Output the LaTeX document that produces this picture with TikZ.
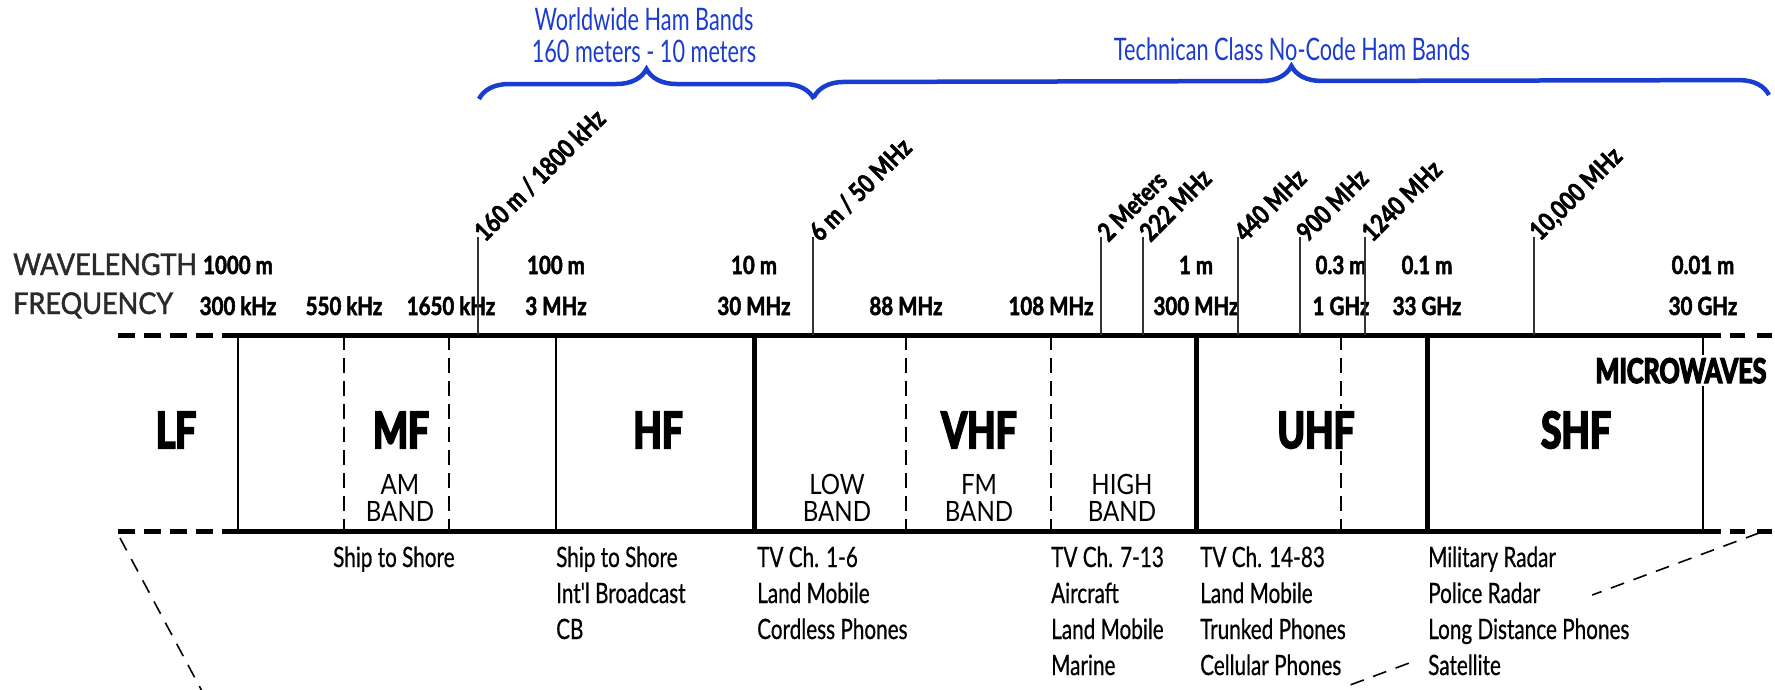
\documentclass[tikz,border=0pt]{standalone}
\usepackage{fontspec}
\setmainfont{Lato}
\newfontfamily\narrowfont[FakeStretch=0.74,FakeBold=0.6]{Lato}
\newfontfamily\hamfont[FakeStretch=0.7]{Lato}
\newfontfamily\semifont[FakeStretch=0.86]{Lato}
\newfontfamily\numfont[FakeStretch=0.82,FakeBold=2]{Lato}
\newfontfamily\heavyfont[FakeStretch=0.74,FakeBold=4]{Lato}
\newfontfamily\rowfont[FakeStretch=0.9,FakeBold=1.5]{Lato}
\usepackage{tikz}
\usetikzlibrary{calc,decorations.pathreplacing}
\definecolor{hamblue}{HTML}{1A3CCF}
\definecolor{rowgray}{HTML}{2A2A2A}

\begin{document}
\begin{tikzpicture}[x=1pt, y=-1pt,
  bandlbl/.style={font=\heavyfont\bfseries\fontsize{50}{50}\selectfont, anchor=base, inner sep=0pt},
  sublbl/.style={font=\semifont\fontsize{28}{27}\selectfont, align=center, anchor=south, inner sep=0pt},
  numlbl/.style={font=\numfont\bfseries\fontsize{25}{25}\selectfont, anchor=base, inner sep=0pt},
  rowlbl/.style={font=\rowfont\fontsize{30}{30}\selectfont, text=rowgray, anchor=base west, inner sep=0pt},
  tiltlbl/.style={font=\numfont\bfseries\fontsize{26}{26}\selectfont, rotate=45, anchor=west, inner sep=1pt},
  uselbl/.style={font=\narrowfont\fontsize{28}{28}\selectfont, anchor=base west, inner sep=0pt},
  hamlbl/.style={font=\hamfont\fontsize{31}{32}\selectfont, text=hamblue, align=center, inner sep=0pt},
  hambrace/.style={draw=hamblue, line width=4.5pt, decorate, decoration={brace, amplitude=30pt}},
  bandedge/.style={line width=5pt},
  thinb/.style={line width=2pt},
  thickb/.style={line width=5pt},
  dashb/.style={line width=2pt, dash pattern=on 15pt off 8pt},
  tickline/.style={line width=1.2pt, black!80},
  farline/.style={line width=1.6pt, dash pattern=on 14pt off 10pt},
]
\useasboundingbox (0,0) rectangle (1775,689);

% ham band braces
\draw[hambrace] (479,99) -- (814,99);
\draw[hambrace] (814,97) -- (1769,95);
\node[hamlbl, anchor=south] (world) at (644,63) {Worldwide Ham Bands\\160 meters - 10 meters};
\node[hamlbl, anchor=base] (tech) at (1292,60) {Technican Class No-Code Ham Bands};

% band edges
\draw[bandedge] (228,335) -- (1721,335);
\draw[bandedge] (228,531) -- (1721,531);
\draw[bandedge, dash pattern=on 17pt off 9pt] (118,335) -- (228,335);
\draw[bandedge, dash pattern=on 17pt off 9pt] (118,531) -- (228,531);
\draw[bandedge, dash pattern=on 15pt off 12pt] (1730,335) -- (1775,335);
\draw[bandedge, dash pattern=on 15pt off 12pt] (1730,531) -- (1775,531);

% band boundaries
\foreach \x/\s in {238/thinb, 344/dashb, 449/dashb, 556/thinb, 754/thickb, 906/dashb,
                   1051/dashb, 1196/thickb, 1341/dashb, 1427/thickb, 1703/thinb}
  \draw[\s] (\x,335) -- (\x,531);

% wavelength and frequency rows
\node[rowlbl] (wave) at (13,275) {WAVELENGTH};
\node[rowlbl] (freq) at (13,314) {FREQUENCY};
\foreach \x/\w [count=\i] in {238/1000 m, 556/100 m, 754/10 m, 1196/1 m, 1341/0.3 m, 1427/0.1 m, 1703/0.01 m}
  \node[numlbl] (w\i) at (\x,274) {\w};
\foreach \x/\f [count=\i] in {238/300 kHz, 344/550 kHz, 451/1650 kHz, 556/3 MHz, 754/30 MHz, 906/88 MHz,
                              1051/108 MHz, 1196/300 MHz, 1341/1 GHz, 1427/33 GHz, 1703/30 GHz}
  \node[numlbl] (f\i) at (\x,315) {\f};

% ham band marks
\foreach \x/\t [count=\i] in {478/{160 m / 1800 kHz}, 813/{6 m / 50 MHz}, 1101/{2 Meters}, 1143/{222 MHz},
                              1238/{440 MHz}, 1300/{900 MHz}, 1365/{1240 MHz}, 1534/{10,000 MHz}} {
  \node[tiltlbl] (mark\i) at (\x,237) {\t};
  \draw[tickline] (mark\i.west) -- ++(0,98);
}

% band names
\node[bandlbl] (lf) at (176,448) {LF};
\node[bandlbl] (mf) at (401,448) {MF};
\node[bandlbl] (hf) at (658,448) {HF};
\node[bandlbl] (vhf) at (979,448) {VHF};
\node[bandlbl, fill=white, inner sep=3pt] (uhf) at (1316,448) {UHF};
\node[bandlbl] (shf) at (1576,448) {SHF};
\node[bandlbl, font=\heavyfont\bfseries\fontsize{34}{34}\selectfont, fill=white, inner sep=3pt] (micro) at (1681,383) {MICROWAVES};

\node[sublbl] (am) at (400,522) {AM\\BAND};
\node[sublbl] (low) at (837,522) {LOW\\BAND};
\node[sublbl] (fm) at (979,522) {FM\\BAND};
\node[sublbl] (high) at (1122,522) {HIGH\\BAND};

% services
\foreach \x/\lines [count=\i] in {333/{Ship to Shore}, 556/{Ship to Shore,Int'l Broadcast,CB},
    757/{TV Ch. 1-6,Land Mobile,Cordless Phones}, 1051/{TV Ch. 7-13,Aircraft,Land Mobile,Marine},
    1200/{TV Ch. 14-83,Land Mobile,Trunked Phones,Cellular Phones},
    1428/{Military Radar,Police Radar,Long Distance Phones,Satellite}}
  \foreach \l [count=\j] in \lines
    \node[uselbl] (use\i-\j) at (\x,{567+36*(\j-1)}) {\l};

% spread lines
\draw[farline] (120,538) -- (203,693);
\coordinate (r1) at (1759,533);
\coordinate (r2) at (1342,688);
\draw[farline] (r1) -- ($(r1)!0.4!(r2)$);
\draw[farline] ($(r1)!0.84!(r2)$) -- (r2);
\end{tikzpicture}
\end{document}
